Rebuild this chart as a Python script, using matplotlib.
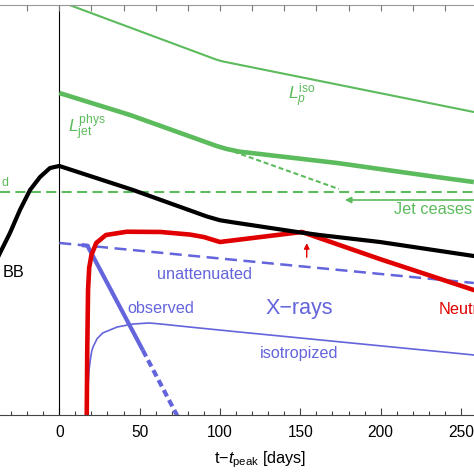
import matplotlib
matplotlib.use('Agg')
import matplotlib.pyplot as plt
import numpy as np

plt.rcParams['font.family'] = ['Liberation Sans', 'DejaVu Sans']
plt.rcParams['mathtext.fontset'] = 'custom'
plt.rcParams['mathtext.rm'] = 'Liberation Sans'
plt.rcParams['mathtext.it'] = 'Liberation Sans:italic'

green = '#5cbb5c'
blue = '#6464dc'
red = '#e00000'

# time since peak [days], curves in log-luminosity units (no y labels on the plot)
iso_days = [0, 98, 102, 106, 258]
iso_L    = [46.046, 45.332, 45.311, 45.295, 44.695]

jet_days = [0, 44, 98, 104, 112, 173, 235, 258]
jet_L    = [44.927, 44.659, 44.28, 44.245, 44.212, 44.073, 43.902, 43.841]

cease_days = [104, 174]
cease_L    = [44.244, 43.756]

edd_L = 43.72

bb_days = [-40, -36.9, -30.7, -24.5, -18.2, -12, -5.8, 0, 45.9, 92, 100, 108, 148, 162, 199.5, 258]
bb_L    = [42.85, 42.976, 43.22, 43.5, 43.744, 43.902, 44.012, 44.037, 43.744, 43.42, 43.375,
           43.35, 43.232, 43.195, 43.11, 42.939]

nu_days = [17.0, 17.4, 17.9, 18.6, 20, 23, 29, 42, 63, 81.5, 90, 100, 151, 199.5, 258]
nu_L    = [40.817, 41.793, 42.524, 42.793, 42.951, 43.098, 43.195, 43.235, 43.232, 43.2,
           43.17, 43.11, 43.232, 42.902, 42.524]

unatt_days = [0, 258]
unatt_L    = [43.098, 42.61]

obs_days = [14, 17.5, 52]
obs_L    = [43.072, 43.065, 41.79]
obs_tail_days = [52, 74.5]
obs_tail_L    = [41.79, 40.95]

isot_days = [17.6, 17.7, 17.9, 18.1, 18.5, 19.5, 20.2, 21, 23.5, 27, 36, 46, 56, 63, 81, 112, 258]
isot_L    = [40.939, 41.1, 41.305, 41.42, 41.549, 41.70, 41.78, 41.83, 41.93, 42.0, 42.073,
             42.11, 42.122, 42.11, 42.073, 42.012, 41.732]

fig = plt.figure(figsize=(4.74, 4.74), dpi=100)
ax = fig.add_axes([0, 59/474, 1, 410/474])
ax.set_xlim(-36.9, 258.1)
ax.set_ylim(41, 46)

ax.axvline(0, color='black', lw=0.8)

ax.plot(iso_days, iso_L, color=green, lw=1.5)
ax.plot(jet_days, jet_L, color=green, lw=3.3, solid_capstyle='butt')
ax.plot(cease_days, cease_L, color=green, lw=1.5, dashes=(2.4, 1.4))
ax.axhline(edd_L, color=green, lw=1.5, dashes=(4.8, 2.6))

ax.plot(unatt_days, unatt_L, color=blue, lw=1.8, dashes=(4.8, 2.6))
ax.plot(isot_days, isot_L, color=blue, lw=1.2)
ax.plot(obs_days, obs_L, color=blue, lw=3, solid_capstyle='butt')
ax.plot(obs_tail_days, obs_tail_L, color=blue, lw=3, dashes=(1.7, 1))

ax.plot(nu_days, nu_L, color=red, lw=3.3)
ax.plot(bb_days, bb_L, color='black', lw=3)

ax.annotate('', xy=(176, 43.622), xytext=(265, 43.622),
            arrowprops=dict(arrowstyle='-|>', color=green, lw=1.2, mutation_scale=9))
ax.annotate('', xy=(154, 43.13), xytext=(154, 42.89),
            arrowprops=dict(arrowstyle='-|>', color=red, lw=1, mutation_scale=8))

fs = 11.7
ax.text(-36.2, 43.83, 'd', color=green, fontsize=9, ha='left', va='center')
ax.text(-35, 42.74, 'BB', color='black', fontsize=fs, va='center')
ax.text(5.4, 44.44, r'$L_{\rm jet}^{\rm phys}$', color=green, fontsize=12.5, va='baseline')
ax.text(142.3, 44.84, r'$L_p^{\rm iso}$', color=green, fontsize=12.5, va='baseline')
ax.text(208.3, 43.51, 'Jet ceases', color=green, fontsize=fs, va='center')
ax.text(60.9, 42.71, 'unattenuated', color=blue, fontsize=fs, va='center')
ax.text(42.2, 42.30, 'observed', color=blue, fontsize=fs, va='center')
ax.text(128.6, 42.30, 'X\u2212rays', color=blue, fontsize=15.5, va='center')
ax.text(124.9, 41.744, 'isotropized', color=blue, fontsize=fs, va='center')
ax.text(236.3, 42.29, 'Neutrinos', color=red, fontsize=fs, va='center')

for s in ['left', 'right']:
    ax.spines[s].set_visible(False)
ax.spines['top'].set_color('#999999')
ax.spines['bottom'].set_color('#444444')
ax.set_yticks([])
ax.set_xticks(np.arange(0, 251, 50))
ax.set_xticks(np.arange(-30, 260, 10), minor=True)
ax.tick_params(axis='x', which='major', direction='in', length=5, width=0.8,
               color='#444444', labelsize=11.2, pad=7, top=False)
ax.tick_params(axis='x', which='minor', direction='in', length=3, width=0.8,
               color='#444444', top=False)

ax2 = ax.twiny()
ax2.set_xlim(ax.get_xlim())
ax2.set_xticks(np.arange(-20, 260, 20))
ax2.tick_params(axis='x', direction='in', length=4, width=0.8, color='#777777',
                labeltop=False)
for s in ax2.spines.values():
    s.set_visible(False)

ax.set_xlabel(r't$-$$t_{\rm peak}$ [days]', fontsize=fs, labelpad=5)
ax.xaxis.set_label_coords(260/474, -0.085)

fig.savefig('out.png', dpi=100)
